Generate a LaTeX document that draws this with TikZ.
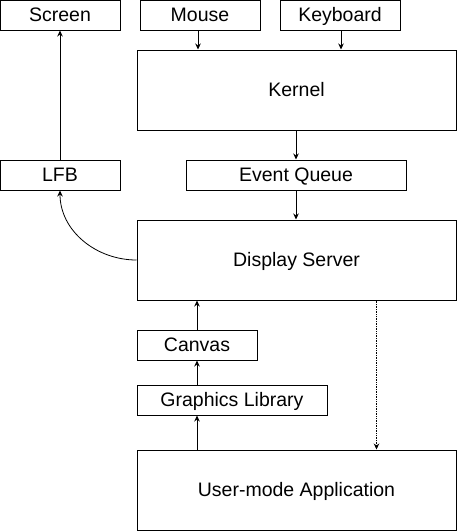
\documentclass[tikz,border=0pt]{standalone}
\usepackage{fontspec}
\setmainfont{Liberation Sans}
\usetikzlibrary{arrows.meta}
\begin{document}
\begin{tikzpicture}[x=1pt,y=-1pt,
  box/.style={draw=black,line width=1pt,rectangle,inner sep=0pt,text height=17.8pt,text depth=4pt,font=\fontsize{19.5pt}{22pt}\selectfont},
  arr/.style={line width=0.8pt,-{Stealth[length=6pt,width=5.5pt]}},
  darr/.style={line width=0.7pt,densely dotted,-{Stealth[length=6pt,width=5.5pt]}}]
\useasboundingbox (0,0) rectangle (457,531);
\node[box,minimum width=120pt,minimum height=30pt] (scr) at (60,15) {Screen};
\node[box,minimum width=120pt,minimum height=30pt] (mou) at (200,15) {Mouse};
\node[box,minimum width=120pt,minimum height=30pt] (key) at (340,15) {Keyboard};
\node[box,minimum width=319pt,minimum height=80pt] (ker) at (296.5,90) {Kernel};
\node[box,minimum width=120pt,minimum height=30pt] (lfb) at (60,175) {LFB};
\node[box,minimum width=220pt,minimum height=30pt] (eq) at (296,175) {Event Queue};
\node[box,minimum width=319pt,minimum height=80pt] (ds) at (296.5,260) {Display Server};
\node[box,minimum width=120pt,minimum height=30pt] (cv) at (197,345) {Canvas};
\node[box,minimum width=190pt,minimum height=30pt] (gl) at (232,400) {Graphics Library};
\node[box,minimum width=319pt,minimum height=80pt] (ua) at (296.5,490) {User-mode Application};
\draw[arr] ([xshift=-2pt]mou.south) -- ([xshift=-2pt]mou.south |- ker.north);
\draw[arr] ([xshift=1pt]key.south) -- ([xshift=1pt]key.south |- ker.north);
\draw[arr] (ker.south -| eq) -- (eq.north);
\draw[arr] (eq.south) -- (eq.south |- ds.north);
\draw[arr] (lfb.north) -- (scr.south);
\draw[arr] (ds.west) to[out=180,in=-90] (lfb.south);
\draw[arr] (cv.north) -- (cv.north |- ds.south);
\draw[arr] (gl.north -| cv) -- (cv.south);
\draw[arr] (ua.north -| cv) -- (gl.south -| cv);
\draw[darr] ([xshift=-80pt]ds.south east) -- ([xshift=-80pt]ua.north east);
\end{tikzpicture}
\end{document}
